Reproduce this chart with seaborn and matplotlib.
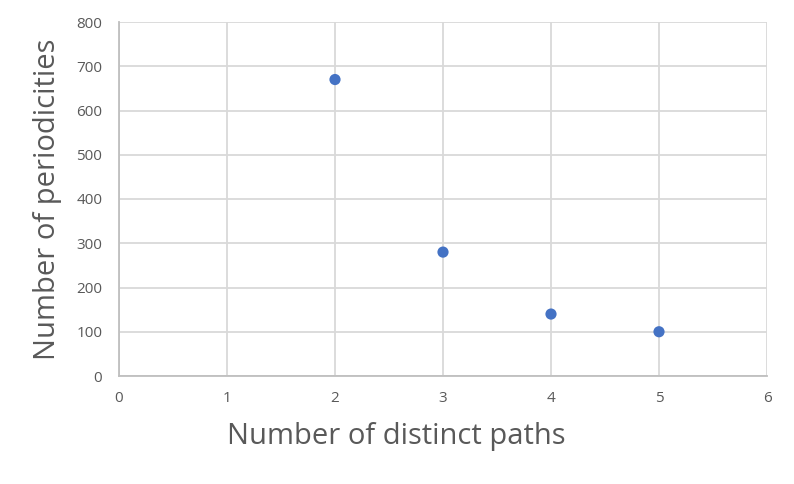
import seaborn as sns
import matplotlib.pyplot as plt
import pandas as pd

# ----------------------- Data -----------------------
paths = [2, 3, 4, 5]
periodicities = [670, 280, 140, 100]
x_ticks = [0, 1, 2, 3, 4, 5, 6]
y_ticks = [0, 100, 200, 300, 400, 500, 600, 700, 800]

df = pd.DataFrame({'paths': paths, 'periodicities': periodicities})

# ----------------------- Style -----------------------
sns.set_style('white')
plt.rcParams['font.family'] = ['Open Sans', 'DejaVu Sans']
text_color = '#595959'
grid_color = '#d9d9d9'

fig = plt.figure(figsize=(7.94, 4.84), dpi=100)
ax = fig.add_axes([119 / 794, 1 - 376 / 484, 648 / 794, 354 / 484])

sns.scatterplot(data=df, x='paths', y='periodicities', ax=ax,
                color='#4472c4', s=65, edgecolor='none', zorder=3)

ax.set_xlim(0, 6)
ax.set_ylim(0, 800)
ax.set_xticks(x_ticks)
ax.set_yticks(y_ticks)
ax.grid(True, color=grid_color, linewidth=1.3)
ax.set_axisbelow(True)

for side in ['top', 'right']:
    ax.spines[side].set_visible(False)
for side in ['left', 'bottom']:
    ax.spines[side].set_color('#bfbfbf')
    ax.spines[side].set_linewidth(1.3)

ax.tick_params(axis='both', length=0, labelsize=11, labelcolor=text_color)
ax.tick_params(axis='x', pad=11)
ax.tick_params(axis='y', pad=12)

# ----------------------- Axis labels -----------------------
ax.set_xlabel('Number of distinct paths', fontsize=21, color=text_color)
ax.set_ylabel('Number of periodicities', fontsize=21, color=text_color)
ax.xaxis.set_label_coords((396 - 119) / 648, -0.13)
ax.yaxis.set_label_coords((62 - 119) / 648, 0.5)

plt.savefig('out.png', dpi=100)
